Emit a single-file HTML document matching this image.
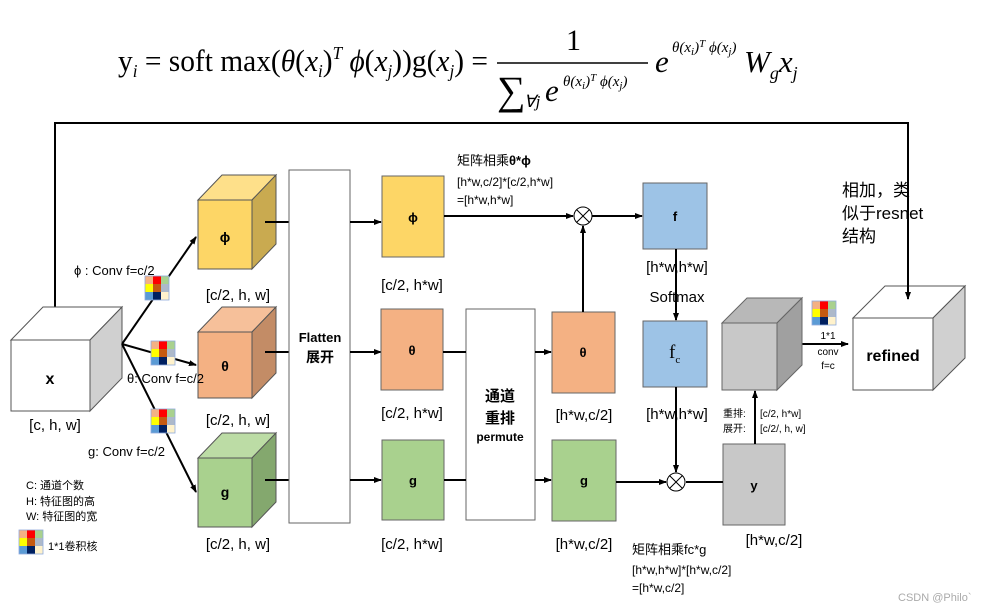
<!DOCTYPE html>
<html><head><meta charset="utf-8"><style>
html,body{margin:0;padding:0;background:#fff;}
svg{display:block;}
.t{font-family:"Liberation Sans","Noto Sans CJK SC",sans-serif;}
.s{font-family:"Liberation Serif",serif;}
</style></head><body>
<svg width="985" height="612" viewBox="0 0 985 612" xmlns="http://www.w3.org/2000/svg">
<defs>
<marker id="a" markerWidth="8" markerHeight="8" refX="7" refY="4" orient="auto" markerUnits="userSpaceOnUse"><path d="M0,1 L8,4 L0,7 z" fill="#000"/></marker>
<g id="k">
<rect x="0" y="0" width="8" height="8" fill="#F4B183"/><rect x="8" y="0" width="8" height="8" fill="#FF0000"/><rect x="16" y="0" width="8" height="8" fill="#A9D18E"/>
<rect x="0" y="8" width="8" height="8" fill="#FFFF00"/><rect x="8" y="8" width="8" height="8" fill="#C55A11"/><rect x="16" y="8" width="8" height="8" fill="#ADB9CA"/>
<rect x="0" y="16" width="8" height="8" fill="#5B9BD5"/><rect x="8" y="16" width="8" height="8" fill="#002060"/><rect x="16" y="16" width="8" height="8" fill="#FFF2CC"/>
<rect x="0" y="0" width="24" height="24" fill="none" stroke="#8faadc" stroke-width="0.8"/>
</g>
</defs>

<!-- formula -->
<g class="s" fill="#000">
<text x="118" y="71" font-size="31" textLength="370" lengthAdjust="spacingAndGlyphs">y<tspan font-size="18" font-style="italic" dy="6">i</tspan><tspan dy="-6"> = soft max(</tspan><tspan font-style="italic">θ</tspan>(<tspan font-style="italic">x</tspan><tspan font-size="18" font-style="italic" dy="6">i</tspan><tspan dy="-6">)</tspan><tspan font-size="18" font-style="italic" dy="-12">T</tspan><tspan dy="12" font-style="italic"> ϕ</tspan>(<tspan font-style="italic">x</tspan><tspan font-size="18" font-style="italic" dy="6">j</tspan><tspan dy="-6">))g(</tspan><tspan font-style="italic">x</tspan><tspan font-size="18" font-style="italic" dy="6">j</tspan><tspan dy="-6">) =</tspan></text>
<text x="566" y="50" font-size="30">1</text>
<line x1="497" y1="63" x2="648" y2="63" stroke="#000" stroke-width="1.5"/>
<text x="497" y="104" font-size="40">∑</text>
<text x="524" y="107" font-size="17" font-style="italic">∀j</text>
<text x="545" y="101" font-size="31" font-style="italic">e</text>
<text x="563" y="86" font-size="15" font-style="italic">θ(x<tspan font-size="11" dy="3">i</tspan><tspan dy="-3">)</tspan><tspan font-size="11" dy="-5">T</tspan><tspan dy="5"> ϕ(x</tspan><tspan font-size="11" dy="3">j</tspan><tspan dy="-3">)</tspan></text>
<text x="655" y="72" font-size="31" font-style="italic">e</text>
<text x="672" y="52" font-size="15" font-style="italic">θ(x<tspan font-size="11" dy="3">i</tspan><tspan dy="-3">)</tspan><tspan font-size="11" dy="-5">T</tspan><tspan dy="5"> ϕ(x</tspan><tspan font-size="11" dy="3">j</tspan><tspan dy="-3">)</tspan></text>
<text x="744" y="72" font-size="31" font-style="italic">W<tspan font-size="18" dy="7">g</tspan><tspan dy="-7">x</tspan><tspan font-size="18" dy="7">j</tspan></text>
</g>

<!-- big skip line -->
<polyline points="55,307 55,123 908,123 908,299" fill="none" stroke="#000" stroke-width="2" marker-end="url(#a)"/>

<!-- x cube -->
<g stroke="#555" stroke-width="1">
<polygon points="11,340 43,307 122,307 90,340" fill="#fff"/>
<polygon points="90,340 122,307 122,378 90,411" fill="#d0d0d0"/>
<rect x="11" y="340" width="79" height="71" fill="#fff"/>
</g>
<text class="t" x="50" y="384" font-size="16" font-weight="bold" text-anchor="middle">x</text>
<text class="t" x="55" y="430" font-size="15" text-anchor="middle">[c, h, w]</text>

<!-- arrows from x -->
<g stroke="#000" stroke-width="2" fill="none" marker-end="url(#a)">
<line x1="122" y1="344" x2="196" y2="237"/>
<line x1="122" y1="344" x2="196" y2="365"/>
<line x1="122" y1="344" x2="196" y2="492"/>
</g>
<use href="#k" x="145" y="276"/>
<use href="#k" x="151" y="341"/>
<use href="#k" x="151" y="409"/>

<!-- legend -->
<g class="t" font-size="11">
<text x="26" y="489">C:  通道个数</text>
<text x="26" y="505">H:  特征图的高</text>
<text x="26" y="520">W: 特征图的宽</text>
<text x="48" y="550">1*1卷积核</text>
</g>
<use href="#k" x="19" y="530"/>

<!-- cubes column 1 -->
<g stroke="#555" stroke-width="1">
<polygon points="198,200 222,175 276,175 252,200" fill="#FEE08A"/>
<polygon points="252,200 276,175 276,244 252,269" fill="#C9AA50"/>
<rect x="198" y="200" width="54" height="69" fill="#FDD666"/>
<polygon points="198,332 222,307 276,307 252,332" fill="#F6C09A"/>
<polygon points="252,332 276,307 276,373 252,398" fill="#C38C66"/>
<rect x="198" y="332" width="54" height="66" fill="#F4B183"/>
<polygon points="198,458 222,433 276,433 252,458" fill="#BCDCA5"/>
<polygon points="252,458 276,433 276,502 252,527" fill="#84A86E"/>
<rect x="198" y="458" width="54" height="69" fill="#A9D18E"/>
</g>
<text class="t" x="74" y="275" font-size="13">ϕ : Conv f=c/2</text>
<text class="t" x="127" y="383" font-size="13">θ: Conv f=c/2</text>
<text class="t" x="88" y="456" font-size="13">g: Conv f=c/2</text>
<g class="t" font-size="14" font-weight="bold" text-anchor="middle">
<text x="225" y="242">ϕ</text><text x="225" y="371">θ</text><text x="225" y="497">g</text>
</g>
<g class="t" font-size="15" text-anchor="middle">
<text x="238" y="300">[c/2, h, w]</text><text x="238" y="425">[c/2, h, w]</text><text x="238" y="549">[c/2, h, w]</text>
</g>
<g stroke="#000" stroke-width="2">
<line x1="265" y1="222" x2="289" y2="222"/><line x1="265" y1="352" x2="289" y2="352"/><line x1="265" y1="480" x2="289" y2="480"/>
</g>

<!-- flatten -->
<rect x="289" y="170" width="61" height="353" fill="#fff" stroke="#666"/>
<text class="t" x="320" y="342" font-size="13" font-weight="bold" text-anchor="middle">Flatten</text>
<text class="t" x="320" y="362" font-size="14" font-weight="bold" text-anchor="middle">展开</text>
<g stroke="#000" stroke-width="2" marker-end="url(#a)">
<line x1="350" y1="222" x2="381" y2="222"/><line x1="350" y1="352" x2="381" y2="352"/><line x1="350" y1="480" x2="381" y2="480"/>
</g>

<!-- column 2 boxes -->
<g stroke="#666">
<rect x="382" y="176" width="62" height="81" fill="#FDD666"/>
<rect x="381" y="309" width="62" height="81" fill="#F4B183"/>
<rect x="382" y="440" width="62" height="80" fill="#A9D18E"/>
<rect x="466" y="309" width="69" height="211" fill="#fff"/>
<rect x="552" y="312" width="63" height="81" fill="#F4B183"/>
<rect x="552" y="440" width="64" height="81" fill="#A9D18E"/>
<rect x="643" y="183" width="64" height="66" fill="#9DC3E6"/>
<rect x="643" y="321" width="64" height="66" fill="#9DC3E6"/>
<rect x="723" y="444" width="62" height="81" fill="#C8C8C8"/>
</g>
<g class="t" font-size="13" font-weight="bold" text-anchor="middle">
<text x="413" y="222">ϕ</text><text x="412" y="355">θ</text><text x="413" y="485">g</text>
<text x="583" y="357">θ</text><text x="584" y="485">g</text>
<text x="675" y="221">f</text><text x="754" y="490">y</text>
</g>
<text class="t" x="500" y="401" font-size="15" font-weight="bold" text-anchor="middle">通道</text>
<text class="t" x="500" y="423" font-size="15" font-weight="bold" text-anchor="middle">重排</text>
<text class="t" x="500" y="441" font-size="12" font-weight="bold" text-anchor="middle">permute</text>
<text class="s" x="669" y="358" font-size="19">f<tspan font-size="11" dy="5">c</tspan></text>

<g class="t" font-size="15" text-anchor="middle">
<text x="412" y="290">[c/2, h*w]</text><text x="412" y="418">[c/2, h*w]</text><text x="412" y="549">[c/2, h*w]</text>
<text x="584" y="420">[h*w,c/2]</text><text x="584" y="549">[h*w,c/2]</text>
<text x="677" y="272">[h*w,h*w]</text><text x="677" y="419">[h*w,h*w]</text>
<text x="677" y="302">Softmax</text>
<text x="774" y="545">[h*w,c/2]</text>
</g>
<g class="t" font-size="13">
<text x="457" y="165">矩阵相乘<tspan font-weight="bold">θ*ϕ</tspan></text>
<text x="457" y="186" font-size="12">[h*w,c/2]*[c/2,h*w]</text>
<text x="457" y="204" font-size="12">=[h*w,h*w]</text>
<text x="632" y="554">矩阵相乘fc*g</text>
<text x="632" y="574" font-size="12">[h*w,h*w]*[h*w,c/2]</text>
<text x="632" y="592" font-size="12">=[h*w,c/2]</text>
<text x="842" y="196" font-size="17">相加，类</text>
<text x="842" y="219" font-size="17">似于resnet</text>
<text x="842" y="242" font-size="17">结构</text>
</g>
<g class="t" font-size="10">
<text x="723" y="417">重排:</text><text x="760" y="417">[c/2, h*w]</text>
<text x="723" y="432">展开:</text><text x="760" y="432">[c/2/, h, w]</text>
<text x="828" y="339" text-anchor="middle">1*1</text>
<text x="828" y="355" text-anchor="middle">conv</text>
<text x="828" y="369" text-anchor="middle">f=c</text>
</g>

<!-- connectors -->
<g stroke="#000" stroke-width="2" fill="none">
<line x1="444" y1="216" x2="573" y2="216" marker-end="url(#a)"/>
<line x1="592" y1="216" x2="642" y2="216" marker-end="url(#a)"/>
<line x1="583" y1="312" x2="583" y2="226" marker-end="url(#a)"/>
<line x1="443" y1="352" x2="466" y2="352"/>
<line x1="535" y1="352" x2="551" y2="352" marker-end="url(#a)"/>
<line x1="444" y1="480" x2="466" y2="480"/>
<line x1="535" y1="480" x2="551" y2="480" marker-end="url(#a)"/>
<line x1="616" y1="482" x2="666" y2="482" marker-end="url(#a)"/>
<line x1="676" y1="249" x2="676" y2="320" marker-end="url(#a)"/>
<line x1="676" y1="387" x2="676" y2="472" marker-end="url(#a)"/>
<line x1="686" y1="482" x2="723" y2="482"/>
<line x1="755" y1="444" x2="755" y2="391" marker-end="url(#a)"/>
<line x1="802" y1="344" x2="848" y2="344" marker-end="url(#a)"/>
</g>
<g stroke="#000" stroke-width="1" fill="#fff">
<circle cx="583" cy="216" r="9"/><path d="M576.6,209.6 L589.4,222.4 M589.4,209.6 L576.6,222.4"/>
<circle cx="676" cy="482" r="9"/><path d="M669.6,475.6 L682.4,488.4 M682.4,475.6 L669.6,488.4"/>
</g>

<!-- gray cube -->
<g stroke="#666" stroke-width="1">
<polygon points="722,323 747,298 802,298 777,323" fill="#b8b8b8"/>
<polygon points="777,323 802,298 802,365 777,390" fill="#a0a0a0"/>
<rect x="722" y="323" width="55" height="67" fill="#c8c8c8"/>
</g>
<use href="#k" x="812" y="301"/>

<!-- refined cube -->
<g stroke="#555" stroke-width="1">
<polygon points="853,318 885,286 965,286 933,318" fill="#fff"/>
<polygon points="933,318 965,286 965,358 933,390" fill="#d0d0d0"/>
<rect x="853" y="318" width="80" height="72" fill="#fff"/>
</g>
<line x1="908" y1="123" x2="908" y2="299" stroke="#000" stroke-width="2" marker-end="url(#a)"/>
<text class="t" x="893" y="361" font-size="16" font-weight="bold" text-anchor="middle">refined</text>

<text class="t" x="898" y="601" font-size="11" fill="#aaa">CSDN @Philo`</text>
</svg>
</body></html>
